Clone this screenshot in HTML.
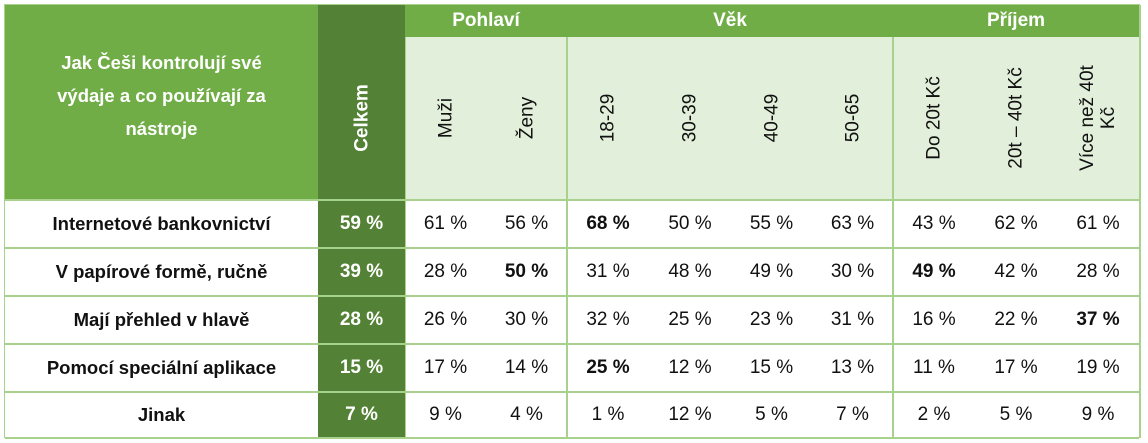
<!DOCTYPE html>
<html><head><meta charset="utf-8">
<style>
body{margin:0;width:1148px;height:443px;background:#fff;overflow:hidden;font-family:"Liberation Sans",sans-serif;}
#t{position:absolute;left:0;top:0;width:1148px;height:443px;}
.c{position:absolute;box-sizing:border-box;display:flex;align-items:center;justify-content:center;text-align:center;color:#111;}
.rot{position:absolute;transform:translate(-50%,-50%) rotate(-90deg);white-space:nowrap;text-align:center;font-size:19px;color:#111;line-height:21px;}
.ln{position:absolute;background:#a9d18e;}
</style></head>
<body>
<div id="t"></div>
<script>
const rowLabels=["Internetové bankovnictví","V papírové formě, ručně","Mají přehled v hlavě","Pomocí speciální aplikace","Jinak"];
const colLabels=["Muži","Ženy","18-29","30-39","40-49","50-65","Do 20t Kč","20t – 40t Kč","Více než 40t<br>Kč"];
const totals=[59,39,28,15,7];
const values=[
[61,56,68,50,55,63,43,62,61],
[28,50,31,48,49,30,49,42,28],
[26,30,32,25,23,31,16,22,37],
[17,14,25,12,15,13,11,17,19],
[9,4,1,12,5,7,2,5,9]];
const bold=[[2],[1,6],[8],[2],[]];
const groups=["Pohlaví","Věk","Příjem"];
const groupSpans=[[0,2],[2,6],[6,9]];

const T=document.getElementById('t');
const colX=[405,486,567,649,731,812,893,975,1057,1139];
const rowY=[200,248,296,344,392,438];
function box(x,y,w,h,bg,html,cls){const d=document.createElement('div');d.className=cls||'c';d.style.cssText+=`left:${x}px;top:${y}px;width:${w}px;height:${h}px;background:${bg};`;if(html!=null)d.innerHTML=html;T.appendChild(d);return d;}

let h=box(5,5,313,195,'#70ad47','Jak Češi kontrolují své<br>výdaje a co používají za<br>nástroje');
h.style.cssText+='color:#fff;font-weight:bold;font-size:18.5px;line-height:33px;padding-bottom:14px;';


let ce=box(318,5,87,433,'#538135',null);


let gh=box(405,5,734,32,'#70ad47',null);


let sh=box(405,37,734,163,'#e2efda',null);



groups.forEach((g,i)=>{const x0=colX[groupSpans[i][0]],x1=colX[groupSpans[i][1]];
 const d=box(x0,5,x1-x0,32,'transparent',g);
 d.style.cssText+='color:#fff;font-weight:bold;font-size:19px;';
 
 });

function rot(cx,txt,style){const d=document.createElement('div');d.className='rot';d.style.left=cx+'px';d.style.top='118px';d.innerHTML=txt;if(style)d.style.cssText+=style;T.appendChild(d);return d;}
const cr=rot(361.5,'Celkem','color:#fff;font-weight:bold;font-size:19px;');


colLabels.forEach((l,i)=>{const r=rot((colX[i]+colX[i+1])/2,l);
 
 });

rowLabels.forEach((l,r)=>{const y=rowY[r],hh=rowY[r+1]-y;
 const lb=box(5,y,313,hh,'transparent',l);
 lb.style.cssText+='font-weight:bold;font-size:18.5px;';
 
 
 const tc=box(318,y,87,hh,'transparent',totals[r]+' %');
 tc.style.cssText+='color:#fff;font-weight:bold;font-size:19px;';
 
 
 values[r].forEach((v,c)=>{const d=box(colX[c],y,colX[c+1]-colX[c],hh,'transparent',v+' %');
  d.style.cssText+='font-size:19px;'+(bold[r].includes(c)?'font-weight:bold;':'');
  
  });
});

function line(x,y,w,hh){const d=document.createElement('div');d.className='ln';d.style.cssText+=`left:${x}px;top:${y}px;width:${w}px;height:${hh}px;`;
 
 
 T.appendChild(d);}
rowY.forEach(y=>line(5,y-1,1134,2));
line(4,5,1,433);line(1139,5,2,433);line(4,4,1136,1);
[567,893].forEach(x=>line(x-1,37,2,401));
line(405,37,1,401);
</script>
</body></html>
